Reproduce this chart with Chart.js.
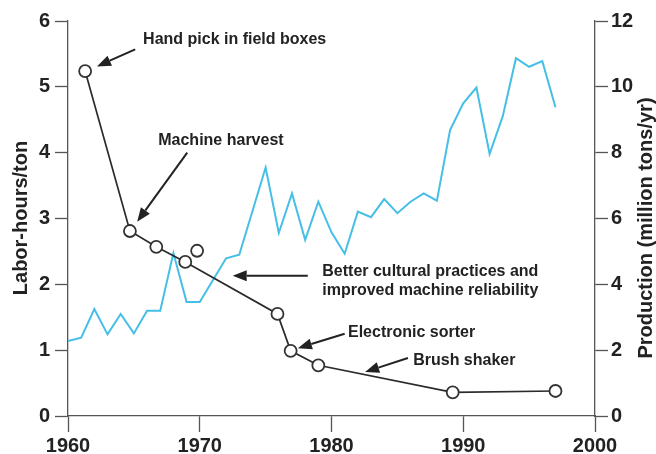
<!DOCTYPE html>
<html>
<head>
<meta charset="utf-8">
<script src="https://cdn.jsdelivr.net/npm/chart.js@4.4.1/dist/chart.umd.min.js"></script>
<style>
  html, body { margin: 0; padding: 0; background: #fff; }
  #wrap { width: 656px; height: 454px; position: relative; }
</style>
</head>
<body>
<div id="wrap"><canvas id="chart"></canvas></div>
<script>
// Labor-hours per ton (left axis)
const laborYears = [1961.3, 1964.7, 1966.7, 1968.9, 1975.9, 1976.9, 1979.0, 1989.2, 1997.0];
const laborValues = [5.24, 2.81, 2.57, 2.34, 1.55, 0.99, 0.77, 0.36, 0.38];
// the lone circle that is not on the line
const strayYears = [1969.8];
const strayValues = [2.51];

// Production, million tons/yr (right axis)
const prodYears = [1960, 1961, 1962, 1963, 1964, 1965, 1966, 1967, 1968, 1969, 1970,
  1972, 1973, 1975, 1976, 1977, 1978, 1979, 1980, 1981, 1982, 1983, 1984, 1985,
  1986, 1987, 1988, 1989, 1990, 1991, 1992, 1993, 1994, 1995, 1996, 1997];
const prodValues = [2.28, 2.38, 3.25, 2.48, 3.1, 2.51, 3.2, 3.2, 4.95, 3.46, 3.46,
  4.79, 4.9, 7.55, 5.56, 6.76, 5.35, 6.51, 5.58, 4.93, 6.21, 6.04, 6.59, 6.16,
  6.51, 6.76, 6.54, 8.69, 9.5, 9.98, 7.96, 9.11, 10.87, 10.61, 10.78, 9.38];

// Tick labels
const xTicks = [1960, 1970, 1980, 1990, 2000];
const leftTicks = [0, 1, 2, 3, 4, 5, 6];
const rightTicks = [0, 2, 4, 6, 8, 10, 12];

// Annotations: text position and arrow tail/tip in data units (year, labor-hours)
const notes = [
  { lines: ["Hand pick in field boxes"], x: 1965.7, y: 5.71, from: [1965.1, 5.57], to: [1962.2, 5.31] },
  { lines: ["Machine harvest"], x: 1966.85, y: 4.19, from: [1969.05, 4.0], to: [1965.25, 2.95] },
  { lines: ["Better cultural practices and", "improved machine reliability"], x: 1979.3, y: 2.19, from: [1978.2, 2.13], to: [1972.5, 2.13] },
  { lines: ["Electronic sorter"], x: 1981.25, y: 1.26, from: [1981.0, 1.25], to: [1977.45, 1.03] },
  { lines: ["Brush shaker"], x: 1986.2, y: 0.835, from: [1985.8, 0.88], to: [1982.55, 0.67] }
];

const FONT = '"Liberation Sans", Arial, Helvetica, sans-serif';
const INK = "#222";
const AXIS = "#555";

function toPoints(xs, ys) {
  return xs.map((x, i) => ({ x: x, y: ys[i] }));
}

function drawArrow(ctx, x1, y1, x2, y2) {
  const ang = Math.atan2(y2 - y1, x2 - x1);
  const len = 14, half = 5.5;
  const bx = x2 - Math.cos(ang) * len, by = y2 - Math.sin(ang) * len;
  ctx.beginPath();
  ctx.moveTo(x1, y1);
  ctx.lineTo(bx, by);
  ctx.stroke();
  ctx.beginPath();
  ctx.moveTo(x2, y2);
  ctx.lineTo(bx + Math.sin(ang) * half, by - Math.cos(ang) * half);
  ctx.lineTo(bx - Math.sin(ang) * half, by + Math.cos(ang) * half);
  ctx.closePath();
  ctx.fill();
}

const extras = {
  id: "extras",
  afterDraw(chart) {
    const ctx = chart.ctx;
    const xs = chart.scales.x, ys = chart.scales.y;
    ctx.save();
    ctx.fillStyle = INK;
    ctx.strokeStyle = INK;
    ctx.lineWidth = 2;
    ctx.font = "bold 16px " + FONT;
    ctx.textAlign = "left";
    ctx.textBaseline = "middle";
    notes.forEach(n => {
      const tx = xs.getPixelForValue(n.x), ty = ys.getPixelForValue(n.y);
      n.lines.forEach((l, i) => ctx.fillText(l, tx, ty + i * 19));
      drawArrow(ctx,
        xs.getPixelForValue(n.from[0]), ys.getPixelForValue(n.from[1]),
        xs.getPixelForValue(n.to[0]), ys.getPixelForValue(n.to[1]));
    });

    // axis titles, both read bottom to top
    ctx.font = "bold 20px " + FONT;
    ctx.textAlign = "center";
    ctx.save();
    ctx.translate(21, 218);
    ctx.rotate(-Math.PI / 2);
    ctx.fillText("Labor-hours/ton", 0, 0);
    ctx.restore();
    ctx.save();
    ctx.translate(646, 228);
    ctx.rotate(-Math.PI / 2);
    ctx.fillText("Production (million tons/yr)", 0, 0);
    ctx.restore();
    ctx.restore();
  }
};

function axisGrid(len) {
  return { display: true, drawOnChartArea: false, drawTicks: true, tickLength: len, tickColor: AXIS, tickWidth: 1.3 };
}

new Chart(document.getElementById("chart"), {
  type: "line",
  data: {
    datasets: [
      {
        data: toPoints(laborYears, laborValues),
        yAxisID: "y",
        borderColor: "#2b2b2b",
        borderWidth: 1.7,
        pointRadius: 6,
        pointBorderWidth: 1.8,
        pointBorderColor: "#333",
        pointBackgroundColor: "#fff",
        tension: 0
      },
      {
        data: toPoints(strayYears, strayValues),
        yAxisID: "y",
        showLine: false,
        pointRadius: 6,
        pointBorderWidth: 1.8,
        pointBorderColor: "#333",
        pointBackgroundColor: "#fff"
      },
      {
        data: toPoints(prodYears, prodValues),
        yAxisID: "y2",
        borderColor: "#45bfe6",
        borderWidth: 2,
        pointRadius: 0,
        tension: 0
      }
    ]
  },
  options: {
    responsive: true,
    maintainAspectRatio: false,
    animation: false,
    layout: { padding: { top: 21, left: 0, right: 0, bottom: 0 } },
    plugins: { legend: { display: false }, tooltip: { enabled: false } },
    scales: {
      x: {
        type: "linear",
        min: 1960, max: 2000,
        afterBuildTicks: s => { s.ticks = xTicks.map(v => ({ value: v })); },
        afterFit: s => { s.height = 38; },
        grid: axisGrid(16),
        border: { display: true, color: AXIS, width: 1.3 },
        ticks: { color: INK, padding: 2, font: { family: FONT, size: 20, weight: "bold" }, callback: v => String(v) }
      },
      y: {
        position: "left",
        min: 0, max: 6,
        afterBuildTicks: s => { s.ticks = leftTicks.map(v => ({ value: v })); },
        afterFit: s => { s.width = 68; },
        grid: axisGrid(13),
        border: { display: true, color: AXIS, width: 1.3 },
        ticks: { color: INK, padding: 5, font: { family: FONT, size: 20, weight: "bold" } }
      },
      y2: {
        position: "right",
        min: 0, max: 12,
        afterBuildTicks: s => { s.ticks = rightTicks.map(v => ({ value: v })); },
        afterFit: s => { s.width = 61; },
        grid: axisGrid(13),
        border: { display: true, color: AXIS, width: 1.3 },
        ticks: { color: INK, padding: 3, font: { family: FONT, size: 20, weight: "bold" } }
      }
    }
  },
  plugins: [extras]
});
</script>
</body>
</html>
